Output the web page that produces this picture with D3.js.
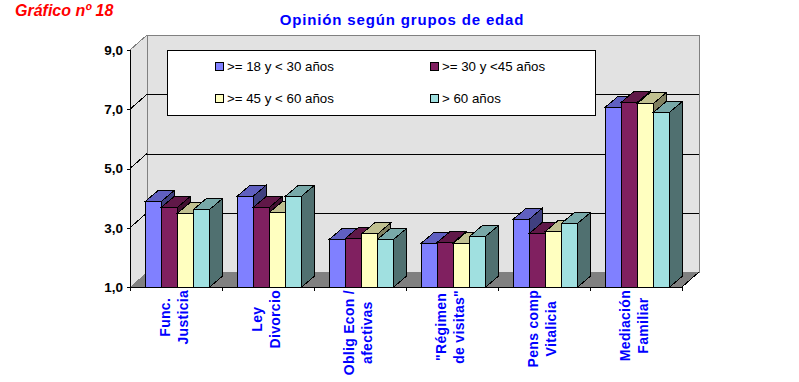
<!DOCTYPE html>
<html>
<head>
<meta charset="utf-8">
<title>Opinión según grupos de edad</title>
<script src="https://cdnjs.cloudflare.com/ajax/libs/d3/7.8.5/d3.min.js"></script>
<style>
	html, body { margin: 0; padding: 0; background: #fff; }
	svg { display: block; font-family: "Liberation Sans", Arial, sans-serif; shape-rendering: crispEdges; }
</style>
</head>
<body>
<div id="chart"></div>
<script>

var categories = ['Func.|Justicia', 'Ley|Divorcio', 'Oblig Econ /|afectivas', '"Régimen|de visitas"', 'Pens comp|Vitalicia', 'Mediación|Familiar'];
var seriesNames = ['>= 18 y < 30 años', '>= 30 y <45 años', '>= 45 y < 60 años', '> 60 años'];

var valuesYoung = [3.89, 4.07, 2.61, 2.48, 3.29, 7.07];
var valuesAdult = [3.69, 3.69, 2.64, 2.51, 2.81, 7.24];
var valuesMiddle = [3.49, 3.52, 2.79, 2.48, 2.88, 7.20];
var valuesSenior = [3.62, 4.07, 2.61, 2.71, 3.15, 6.90];
var seriesValues = [valuesYoung, valuesAdult, valuesMiddle, valuesSenior];

var yTicks = [1, 3, 5, 7, 9];

var frontColors = ['#8080ff', '#802060', '#ffffc0', '#a0e0e0'];
var topColors = ['#6060c0', '#601848', '#c0c090', '#78a8a8'];
var sideColors = ['#404080', '#401030', '#808060', '#507070'];

var width = 799, height = 382;

var svg = d3.select('#chart').append('svg')
	.attr('width', width)
	.attr('height', height);

// 1. Scales
var x = d3.scaleBand().domain(d3.range(categories.length)).range([130, 682]);
var xBar = d3.scaleBand().domain(d3.range(seriesNames.length)).range([15.3, 79.7]);
var y = d3.scaleLinear().domain([1, 9]).range([287, 50]);

// Depth of the walls and of the bars (fake 3D)
var wallDx = 17, wallDy = 15;
var barDx = 13, barDy = 11;

var left = x.range()[0], right = x.range()[1];

function poly(points) {
	return points.map(function(p) { return p.join(','); }).join(' ');
}

// 2. Walls and floor
svg.append('polygon')
	.attr('points', poly([[left, y(9)], [left + wallDx, y(9) - wallDy], [left + wallDx, y(1) - wallDy], [left, y(1)]]))
	.style('fill', '#e2e2e2');

svg.append('rect')
	.attr('x', left + wallDx)
	.attr('y', y(9) - wallDy)
	.attr('width', right - left)
	.attr('height', y(1) - y(9))
	.style('fill', '#e2e2e2')
	.style('stroke', '#808080');

svg.append('line')
	.attr('x1', left).attr('y1', y(9))
	.attr('x2', left + wallDx).attr('y2', y(9) - wallDy)
	.style('stroke', '#808080');

svg.append('polygon')
	.attr('points', poly([[left, y(1)], [left + wallDx, y(1) - wallDy], [right + wallDx, y(1) - wallDy], [right, y(1)]]))
	.style('fill', '#808080');

svg.append('line')
	.attr('x1', right).attr('y1', y(1))
	.attr('x2', right + wallDx).attr('y2', y(1) - wallDy)
	.style('stroke', '#000');

// 3. Gridlines
var grid = svg.append('g').selectAll('g').data(yTicks.slice(1, 4)).enter().append('g');

grid.append('line')
	.attr('x1', left + wallDx).attr('x2', right + wallDx)
	.attr('y1', function(d) { return Math.round(y(d) - wallDy) + 0.5; })
	.attr('y2', function(d) { return Math.round(y(d) - wallDy) + 0.5; })
	.style('stroke', '#000');

grid.append('line')
	.attr('x1', left).attr('x2', left + wallDx)
	.attr('y1', function(d) { return y(d); })
	.attr('y2', function(d) { return y(d) - wallDy; })
	.style('stroke', '#000');

// 4. Axes
var yAxis = svg.append('g')
	.attr('transform', 'translate(' + left + ',0)')
	.call(d3.axisLeft(y).tickValues(yTicks).tickSize(3).tickPadding(4).tickFormat(function(d) { return d.toFixed(1).replace('.', ','); }));

yAxis.selectAll('text')
	.style('font-family', '"Liberation Sans", Arial, sans-serif')
	.style('font-size', '13.5px')
	.style('font-weight', 'bold')
	.style('fill', '#000');

var xAxis = svg.append('g')
	.attr('transform', 'translate(0,' + y(1) + ')')
	.call(d3.axisBottom(d3.scaleLinear().domain([0, categories.length]).range([left, right])).ticks(categories.length).tickSize(4).tickFormat(''));

svg.selectAll('.domain, .tick line').style('stroke', '#000');

// 5. Bars, left to right so every bar covers the side of the previous one
categories.forEach(function(category, c) {

	seriesValues.forEach(function(values, s) {

		var x0 = x(c) + xBar(s);
		var x1 = x0 + xBar.bandwidth();
		var yTop = y(values[c]);
		var yBottom = y(1);

		var bar = svg.append('g').attr('class', 'bar');

		bar.append('polygon')
			.attr('points', poly([[x1, yTop], [x1 + barDx, yTop - barDy], [x1 + barDx, yBottom - barDy], [x1, yBottom]]))
			.style('fill', sideColors[s]);

		bar.append('polygon')
			.attr('points', poly([[x0, yTop], [x0 + barDx, yTop - barDy], [x1 + barDx, yTop - barDy], [x1, yTop]]))
			.style('fill', topColors[s]);

		bar.append('rect')
			.attr('x', x0)
			.attr('y', yTop)
			.attr('width', x1 - x0)
			.attr('height', yBottom - yTop)
			.style('fill', frontColors[s]);

		bar.selectAll('*')
			.style('stroke', '#000')
			.style('stroke-width', 1);
	});
});

// 6. Category labels (rotated, two lines, hanging from the axis)
categories.forEach(function(category, c) {

	var lines = category.split('|');
	var center = x(c) + x.bandwidth() / 2;

	var label = svg.append('g').attr('class', 'category');

	var texts = label.selectAll('text').data(lines).enter().append('text')
		.attr('text-anchor', 'middle')
		.style('font-size', '14px')
		.style('font-weight', 'bold')
		.style('letter-spacing', '0.3px')
		.style('fill', '#0000ff')
		.text(function(d) { return d; });

	var longest = d3.max(texts.nodes(), function(n) { return n.getComputedTextLength(); });
	var yCenter = 290 + longest / 2;

	texts.attr('transform', function(d, i) {
		return 'translate(' + (center - 6.5 + i * 18.5) + ',' + yCenter + ') rotate(-90)';
	});
});

// 7. Legend
var legendX = [215, 430];
var legendY = [66, 98];

svg.append('rect')
	.attr('x', 167.5)
	.attr('y', 50.5)
	.attr('width', 428)
	.attr('height', 65)
	.style('fill', '#fff')
	.style('stroke', '#000');

var legend = svg.selectAll('.legendItem').data(seriesNames).enter().append('g')
	.attr('class', 'legendItem')
	.attr('transform', function(d, i) { return 'translate(' + legendX[i % 2] + ',' + legendY[Math.floor(i / 2)] + ')'; });

legend.append('rect')
	.attr('x', 0.5)
	.attr('y', -3.5)
	.attr('width', 8)
	.attr('height', 8)
	.style('fill', function(d, i) { return frontColors[i]; })
	.style('stroke', '#000');

legend.append('text')
	.attr('x', 12)
	.attr('y', 4.5)
	.style('font-size', '13.3px')
	.style('fill', '#000')
	.text(function(d) { return d; });

// 8. Titles
svg.append('text')
	.attr('x', 402)
	.attr('y', 25)
	.attr('text-anchor', 'middle')
	.style('font-size', '15px')
	.style('font-weight', 'bold')
	.style('letter-spacing', '0.85px')
	.style('fill', '#0000ff')
	.text('Opinión según grupos de edad');

svg.append('text')
	.attr('x', 15)
	.attr('y', 16)
	.style('font-size', '16px')
	.style('font-weight', 'bold')
	.style('font-style', 'italic')
	.style('fill', '#ff0000')
	.text('Gráfico nº 18');

</script>
</body>
</html>
